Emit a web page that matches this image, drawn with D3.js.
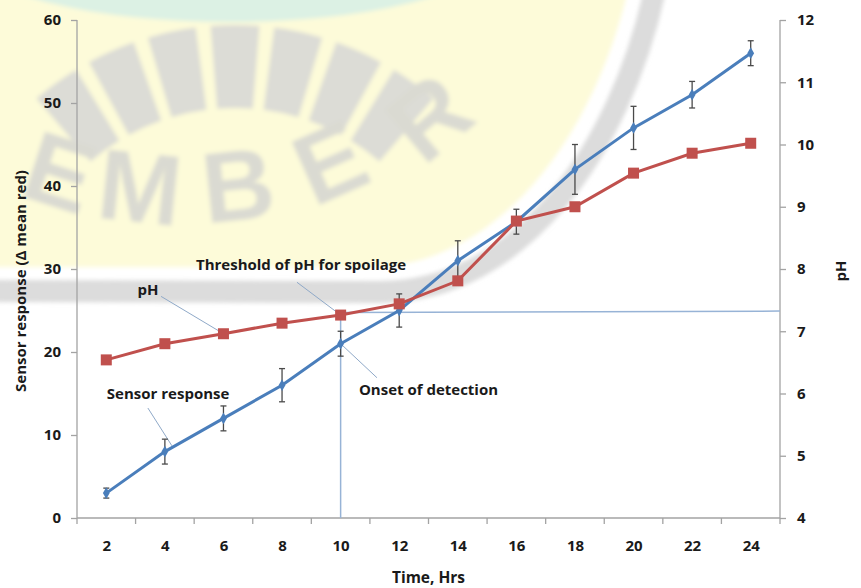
<!DOCTYPE html>
<html>
<head>
<meta charset="utf-8">
<script src="https://cdn.jsdelivr.net/npm/d3@7"></script>
<style>
  html, body { margin: 0; padding: 0; background: #fff; }
  svg { display: block; }
  text { font-family: "Open Sans", "DejaVu Sans", sans-serif; font-weight: 700; fill: #1a1a1a; }
</style>
</head>
<body>
<svg id="chart" width="861" height="588"></svg>
<script>
// Sampling times (hours)
const hours = [2, 4, 6, 8, 10, 12, 14, 16, 18, 20, 22, 24];
// Sensor response (Δ mean red) and its error (±)
const sensor = [3, 8, 12, 16, 21, 25, 31, 35.7, 42, 47, 51, 56];
const sensorErr = [0.6, 1.5, 1.5, 2, 1.5, 2, 2.4, 1.5, 3, 2.6, 1.6, 1.5];
// pH of the sample
const ph = [6.54, 6.80, 6.96, 7.13, 7.26, 7.44, 7.81, 8.77, 9.0, 9.54, 9.86, 10.02];
// Axis ticks
const leftTicks = [0, 10, 20, 30, 40, 50, 60];
const rightTicks = [4, 5, 6, 7, 8, 9, 10, 11, 12];
// Spoilage threshold and the onset of detection
const phThreshold = 7.3;
const onsetHour = 10;

const svg = d3.select("#chart");
const plot = { left: 77, right: 780, top: 20, bottom: 518 };

// ---------- faint background emblem ----------
const defs = svg.append("defs");
defs.append("filter").attr("id", "soft")
  .append("feGaussianBlur").attr("stdDeviation", 2.2);
const bg = svg.append("g").attr("class", "emblem").attr("filter", "url(#soft)");

bg.append("path")
  .attr("d", "M-10,-10 L-10,267 L370,267 C495,267 593,140 628,-10 Z")
  .attr("fill", "#fdfbd9");
bg.append("ellipse")
  .attr("cx", 230).attr("cy", -40).attr("rx", 250).attr("ry", 62)
  .attr("fill", "#dcf1e4");
// rays
const rayCenter = [235, 330];
[-36, -24, -12, 0, 12, 24, 36].forEach(a => {
  const arc = d3.arc()
    .innerRadius(222).outerRadius(305)
    .startAngle((a - 4.6) * Math.PI / 180)
    .endAngle((a + 4.6) * Math.PI / 180);
  bg.append("path")
    .attr("d", arc())
    .attr("transform", `translate(${rayCenter})`)
    .attr("fill", "#dcdcd6");
});
// curved band
bg.append("path")
  .attr("d", "M-10,291 L380,292 C520,292 620,150 655,-10")
  .attr("fill", "none").attr("stroke", "#dcdcdc").attr("stroke-width", 22);
// lettering
[["E", 60, 172, 18], ["M", 140, 187, 6], ["B", 238, 185, -6], ["E", 330, 162, -24], ["R", 429, 117, -40]]
  .forEach(([ch, x, y, r]) => {
    bg.append("text")
      .attr("transform", `translate(${x},${y}) rotate(${r})`)
      .attr("text-anchor", "middle").attr("dominant-baseline", "central")
      .style("font-family", "'Liberation Sans', Arial, sans-serif")
      .style("font-size", "100px").style("font-weight", 700)
      .style("fill", "#dadad2")
      .text(ch);
  });

// ---------- scales ----------
const x = d3.scaleLinear().domain([1, 25]).range([plot.left, plot.right]);
const yL = d3.scaleLinear().domain([0, 60]).range([plot.bottom, plot.top]);
const yR = d3.scaleLinear().domain([4, 12]).range([plot.bottom, plot.top]);

const axisColor = "#a3a3a3";
const g = svg.append("g");

// ---------- axes ----------
const leftAxis = g.append("g").attr("transform", `translate(${plot.left},0)`)
  .call(d3.axisLeft(yL).tickValues(leftTicks).tickSize(6).tickPadding(10));
const rightAxis = g.append("g").attr("transform", `translate(${plot.right},0)`)
  .call(d3.axisRight(yR).tickValues(rightTicks).tickSize(6).tickPadding(11));
const bottomAxis = g.append("g").attr("transform", `translate(0,${plot.bottom})`)
  .call(d3.axisBottom(x).tickValues(hours).tickSize(0).tickPadding(22).tickFormat(d3.format("d")));
// tick marks sit between the time categories
const boundaries = d3.range(1, 26, 2);
g.append("g").selectAll("line").data(boundaries).join("line")
  .attr("x1", d => x(d)).attr("x2", d => x(d))
  .attr("y1", plot.bottom).attr("y2", plot.bottom + 6)
  .attr("stroke", axisColor).attr("stroke-width", 1.3);

[leftAxis, rightAxis, bottomAxis].forEach(a => {
  a.select(".domain").attr("stroke", axisColor).attr("stroke-width", 1.3);
  a.selectAll(".tick line").attr("stroke", axisColor).attr("stroke-width", 1.3);
  a.selectAll(".tick text").style("font-size", "15px").style("font-weight", 700)
    .style("font-family", "'Open Sans', sans-serif").attr("fill", "#1a1a1a");
});
leftAxis.select(".domain").attr("d", `M0,${plot.top}V${plot.bottom}`);
rightAxis.select(".domain").attr("d", `M0,${plot.top}V${plot.bottom}`);
bottomAxis.select(".domain").attr("d", `M${plot.left},0H${plot.right}`);

// axis titles
g.append("text")
  .attr("transform", `translate(26,${(plot.top + plot.bottom) / 2 + 12}) rotate(-90)`)
  .attr("text-anchor", "middle").style("font-size", "15px")
  .text("Sensor response (Δ mean red)");
g.append("text")
  .attr("transform", `translate(846,${(plot.top + plot.bottom) / 2 + 2}) rotate(-90)`)
  .attr("text-anchor", "middle").style("font-size", "15px")
  .text("pH");
g.append("text")
  .attr("x", (plot.left + plot.right) / 2).attr("y", 583)
  .attr("text-anchor", "middle").style("font-size", "15.5px")
  .text("Time, Hrs");

// ---------- threshold guides ----------
const guideColor = "#97b3d6";
g.append("line")
  .attr("x1", x(onsetHour)).attr("x2", plot.right)
  .attr("y1", yR(phThreshold)).attr("y2", yR(phThreshold) - 1.5)
  .attr("stroke", guideColor).attr("stroke-width", 1.5);
g.append("line")
  .attr("x1", x(onsetHour)).attr("x2", x(onsetHour))
  .attr("y1", yR(phThreshold)).attr("y2", plot.bottom)
  .attr("stroke", guideColor).attr("stroke-width", 1.5);

// ---------- annotations ----------
const sensorPt = i => [x(hours[i]), yL(sensor[i])];
const phPt = i => [x(hours[i]), yR(ph[i])];
const annotations = [
  { text: "pH", at: [3.42, 26.9], from: [3.87, 26.7], to: phPt(2) },
  { text: "Threshold of pH for spoilage", at: [8.65, 29.9], from: [8.51, 28.4], to: phPt(4) },
  { text: "Sensor response", at: [4.11, 14.35], from: [3.42, 13.25], to: [x(4.24), yL(8.7)] },
  { text: "Onset of detection", at: [13.0, 14.85], from: sensorPt(4), to: [x(11.24), yL(16.9)], fromData: true }
];
const leaderColor = "#8fa9c8";
annotations.forEach(a => {
  const p0 = a.fromData ? a.from : [x(a.from[0]), yL(a.from[1])];
  g.append("line")
    .attr("x1", p0[0]).attr("y1", p0[1])
    .attr("x2", a.to[0]).attr("y2", a.to[1])
    .attr("stroke", leaderColor).attr("stroke-width", 1);
  g.append("text")
    .attr("x", x(a.at[0])).attr("y", yL(a.at[1]))
    .attr("text-anchor", "middle").style("font-size", "15px")
    .text(a.text);
});

// ---------- error bars ----------
const eb = g.append("g").attr("stroke", "#4a4a4a").attr("stroke-width", 1.3);
hours.forEach((h, i) => {
  const cx = x(h), y1 = yL(sensor[i] + sensorErr[i]), y2 = yL(sensor[i] - sensorErr[i]);
  eb.append("line").attr("x1", cx).attr("x2", cx).attr("y1", y1).attr("y2", y2);
  eb.append("line").attr("x1", cx - 3).attr("x2", cx + 3).attr("y1", y1).attr("y2", y1);
  eb.append("line").attr("x1", cx - 3).attr("x2", cx + 3).attr("y1", y2).attr("y2", y2);
});

// ---------- series ----------
const blue = "#4a7ebb", red = "#c0504d";
const sensorLine = d3.line().x((d, i) => x(hours[i])).y(d => yL(d));
const phLine = d3.line().x((d, i) => x(hours[i])).y(d => yR(d));

g.append("path").datum(sensor).attr("d", sensorLine)
  .attr("fill", "none").attr("stroke", blue).attr("stroke-width", 3);
g.append("g").selectAll("path").data(sensor).join("path")
  .attr("d", d3.symbol(d3.symbolDiamond, 40))
  .attr("transform", (d, i) => `translate(${x(hours[i])},${yL(d)})`)
  .attr("fill", blue);

g.append("path").datum(ph).attr("d", phLine)
  .attr("fill", "none").attr("stroke", red).attr("stroke-width", 3);
g.append("g").selectAll("rect").data(ph).join("rect")
  .attr("x", (d, i) => x(hours[i]) - 5.5).attr("y", d => yR(d) - 5.5)
  .attr("width", 11).attr("height", 11)
  .attr("fill", red);
</script>
</body>
</html>
